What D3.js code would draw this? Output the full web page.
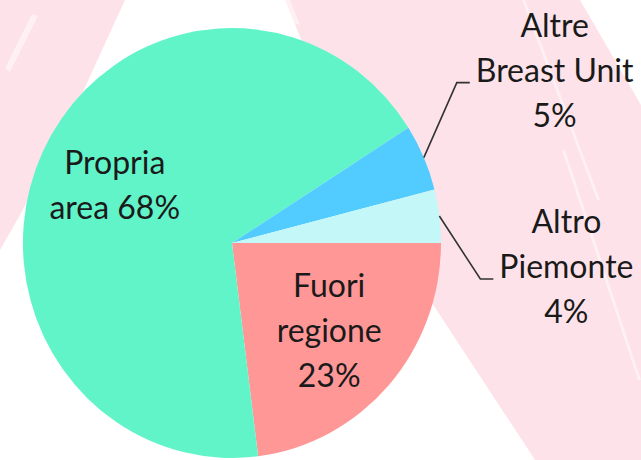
<!DOCTYPE html>
<html>
<head>
<meta charset="utf-8">
<script src="https://cdn.jsdelivr.net/npm/d3@7"></script>
<style>
  html, body { margin: 0; padding: 0; background: #ffffff; }
  svg { display: block; }
  text { font-family: Lato, "Open Sans", sans-serif; fill: #1a1a1a; }
</style>
</head>
<body>
<svg id="chart" width="641" height="460"></svg>
<script>
// ---- data ----
const categories = ["Fuori regione", "Propria area", "Altre Breast Unit", "Altro Piemonte"];
const values = [23, 68, 5, 4];
const labelLines = [["Fuori", "regione", "23%"], ["Propria", "area 68%"], ["Altre", "Breast Unit", "5%"], ["Altro", "Piemonte", "4%"]];
const colors = ["#FF9797", "#62F4C9", "#52CCFF", "#C4F8F8"];

// ---- layout ----
const W = 641, H = 460;
const cx = 232, cy = 243, rx = 209, ry = 215;
const fontSize = 32, lineH = 45;
const svg = d3.select("#chart");

// background watermark (decorative)
const bg = svg.append("g");
bg.append("rect").attr("width", W).attr("height", H).attr("fill", "#ffffff");
bg.append("path").attr("fill", "#FDE3E9")
  .attr("d", "M0,0 L125,0 L70,120 L20,215 L0,250 Z");
bg.append("path").attr("fill", "#FDE3E9")
  .attr("d", "M285,0 L580,0 L641,105 L641,460 L535,460 L430,300 L330,110 Z");
// soft white streaks
const streaks = [
  "M255,0 L290,0 L300,25 L270,15 Z",
  "M522,0 L525,0 L600,200 L597,200 Z",
  "M562,150 L565,150 L641,380 L638,380 Z",
  "M32,14 L38,16 L10,72 L5,68 Z"
];
streaks.forEach(d => bg.append("path").attr("d", d).attr("fill", "#ffffff").attr("opacity", 0.45));

// pie
const pie = d3.pie().sort(null).value(d => d)
  .startAngle(Math.PI / 2).endAngle(Math.PI / 2 + 2 * Math.PI);
const arcs = pie(values);
const arc = d3.arc().innerRadius(0).outerRadius(1);

const g = svg.append("g").attr("transform", `translate(${cx},${cy})`);
g.append("g").attr("transform", `scale(${rx},${ry})`)
  .selectAll("path").data(arcs).join("path")
  .attr("d", arc)
  .attr("fill", (d, i) => colors[i]);

function pt(angle, r) {
  return [cx + rx * r * Math.sin(angle), cy - ry * r * Math.cos(angle)];
}

// inside labels (large slices)
const capH = fontSize * 0.33;
arcs.forEach((a, i) => {
  if (values[i] < 10) return;
  const mid = (a.startAngle + a.endAngle) / 2;
  const [x, y] = pt(mid, 0.62);
  const lines = labelLines[i];
  const first = y - (lines.length - 1) / 2 * lineH + capH;
  const t = svg.append("text").attr("text-anchor", "middle").attr("font-size", fontSize);
  lines.forEach((l, k) => t.append("tspan").attr("x", x).attr("y", first + k * lineH).text(l));
});

// outside labels with leader lines (small slices)
const leader = { 2: { ex: 33, ey: -75, hx: 13 }, 3: { ex: 41, ey: 63, hx: 13 } };
arcs.forEach((a, i) => {
  if (values[i] >= 10) return;
  const mid = (a.startAngle + a.endAngle) / 2;
  const [sx, sy] = pt(mid, 1.0);
  const L = leader[i];
  const ex = sx + L.ex, ey = sy + L.ey, hx = ex + L.hx;
  svg.append("path")
    .attr("d", `M${sx},${sy} L${ex},${ey} L${hx},${ey}`)
    .attr("fill", "none").attr("stroke", "#333").attr("stroke-width", 1.6);
  const lines = labelLines[i];
  const t = svg.append("text").attr("text-anchor", "middle").attr("font-size", fontSize);
  const tmp = svg.append("text").attr("font-size", fontSize).text(lines[1]);
  const w = tmp.node().getComputedTextLength();
  tmp.remove();
  const tx = hx + 6 + w / 2;
  const midBase = ey - 1;
  lines.forEach((l, k) => t.append("tspan").attr("x", tx).attr("y", midBase + (k - 1) * lineH).text(l));
});
</script>
</body>
</html>
